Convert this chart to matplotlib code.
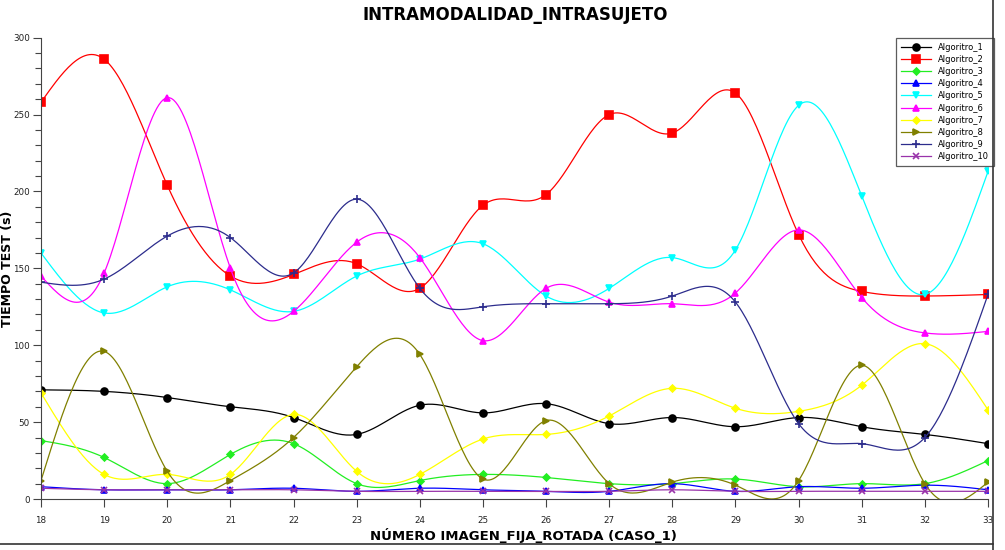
import numpy as np
import matplotlib.pyplot as plt
from matplotlib.lines import Line2D
from matplotlib.ticker import MultipleLocator

# image number (x axis)
imagenes = list(range(18, 34))

# test time (s) per algorithm
alg_1 = [71, 70, 66, 60, 53, 42, 61, 56, 62, 49, 53, 47, 53, 47, 42, 36]
alg_2 = [258, 286, 204, 145, 146, 153, 137, 191, 198, 250, 238, 264, 172, 135, 132, 133]
alg_3 = [38, 27, 10, 29, 36, 10, 12, 16, 14, 10, 10, 13, 8, 10, 10, 25]
alg_4 = [8, 6, 6, 6, 7, 5, 7, 6, 5, 5, 10, 5, 8, 7, 9, 6]
alg_5 = [160, 121, 138, 136, 122, 145, 156, 166, 132, 137, 157, 162, 256, 197, 133, 213]
alg_6 = [145, 147, 261, 150, 122, 167, 157, 103, 137, 128, 127, 134, 175, 131, 108, 109]
alg_7 = [69, 16, 16, 16, 55, 18, 16, 39, 42, 54, 72, 59, 57, 74, 101, 58]
alg_8 = [12, 96, 18, 12, 40, 86, 94, 13, 51, 10, 11, 9, 12, 87, 10, 11]
alg_9 = [141, 143, 171, 170, 147, 195, 137, 125, 127, 127, 132, 128, 49, 36, 40, 133]
alg_10 = [7, 6, 6, 6, 6, 5, 5, 5, 5, 5, 6, 5, 5, 5, 5, 5]

series = [alg_1, alg_2, alg_3, alg_4, alg_5, alg_6, alg_7, alg_8, alg_9, alg_10]
nombres = ['Algoritro_%d' % (i + 1) for i in range(10)]
colores = ['#000000', '#ff0000', '#22ee22', '#0000ff', '#00ffff',
           '#ff00ff', '#ffff00', '#808000', '#2c2c8c', '#9933aa']
marcadores = ['o', 's', 'D', '^', 'v', '^', 'D', '>', '+', 'x']
tamanos = [5, 6, 3.5, 5, 5, 5, 3.5, 5, 6, 5]


def natural_spline(x, y, n=30):
    # natural cubic spline, just to draw the smooth line
    x = np.asarray(x, float)
    y = np.asarray(y, float)
    k = len(x)
    h = np.diff(x)
    A = np.zeros((k, k))
    b = np.zeros(k)
    A[0, 0] = 1
    A[-1, -1] = 1
    for i in range(1, k - 1):
        A[i, i - 1] = h[i - 1]
        A[i, i] = 2 * (h[i - 1] + h[i])
        A[i, i + 1] = h[i]
        b[i] = 3 * ((y[i + 1] - y[i]) / h[i] - (y[i] - y[i - 1]) / h[i - 1])
    c = np.linalg.solve(A, b)
    xs, ys = [], []
    for i in range(k - 1):
        t = np.linspace(0, h[i], n, endpoint=False)
        bi = (y[i + 1] - y[i]) / h[i] - h[i] * (2 * c[i] + c[i + 1]) / 3
        di = (c[i + 1] - c[i]) / (3 * h[i])
        xs.append(x[i] + t)
        ys.append(y[i] + bi * t + c[i] * t ** 2 + di * t ** 3)
    xs.append([x[-1]])
    ys.append([y[-1]])
    return np.concatenate(xs), np.concatenate(ys)


fig = plt.figure(figsize=(10.05, 5.5), dpi=100)
ax = fig.add_axes([0.0408, 0.0927, 0.9423, 0.8388])

handles = []
for vals, nom, col, mk, ms in zip(series, nombres, colores, marcadores, tamanos):
    xs, ys = natural_spline(imagenes, vals)
    ax.plot(xs, ys, color=col, lw=0.9)
    ax.plot(imagenes, vals, ls='none', marker=mk, color=col, ms=ms, mew=1.2)
    handles.append(Line2D([], [], color=col, lw=0.9, marker=mk, ms=ms, mew=1.2, label=nom))

ax.set_xlim(18, 33)
ax.set_ylim(0, 300)
ax.set_xticks(imagenes)
ax.yaxis.set_major_locator(MultipleLocator(50))
ax.yaxis.set_minor_locator(MultipleLocator(10))
for s in ['top', 'right']:
    ax.spines[s].set_visible(False)
ax.spines['left'].set_color('#444444')
ax.spines['bottom'].set_color('#444444')
ax.tick_params(which='major', length=6, width=0.8, color='#444444', labelsize=6.3, labelcolor='#222222')
ax.tick_params(which='minor', length=4, width=0.8, color='#444444')
ax.tick_params(axis='x', pad=6)
ax.tick_params(axis='y', pad=2)

ax.set_xlabel('NÚMERO IMAGEN_FIJA_ROTADA (CASO_1)', fontsize=9.5, fontweight='bold')
ax.xaxis.set_label_coords(0.509, -0.062)
ax.set_ylabel('TIEMPO TEST (s)', fontsize=9, fontweight='bold')
ax.yaxis.set_label_coords(-0.028, 0.5)
fig.text(0.513, 0.972, 'INTRAMODALIDAD_INTRASUJETO', ha='center', va='center', fontsize=12,
         fontweight='bold')

leg = ax.legend(handles=handles, loc='upper right', bbox_to_anchor=(1.006, 1.0), fontsize=6,
                frameon=True, fancybox=False, shadow=False, handlelength=3.6,
                handletextpad=0.8, labelspacing=0.38, borderpad=0.6, borderaxespad=0.0)
leg.get_frame().set_edgecolor('#333333')
leg.get_frame().set_linewidth(0.9)

# screenshot frame lines
fig.add_artist(Line2D([993 / 1005, 993 / 1005], [0, 1], color='#333333', lw=1.2, transform=fig.transFigure))
fig.add_artist(Line2D([0, 993 / 1005], [6 / 550, 6 / 550], color='#333333', lw=1.2, transform=fig.transFigure))

fig.savefig('out.png', dpi=100)
